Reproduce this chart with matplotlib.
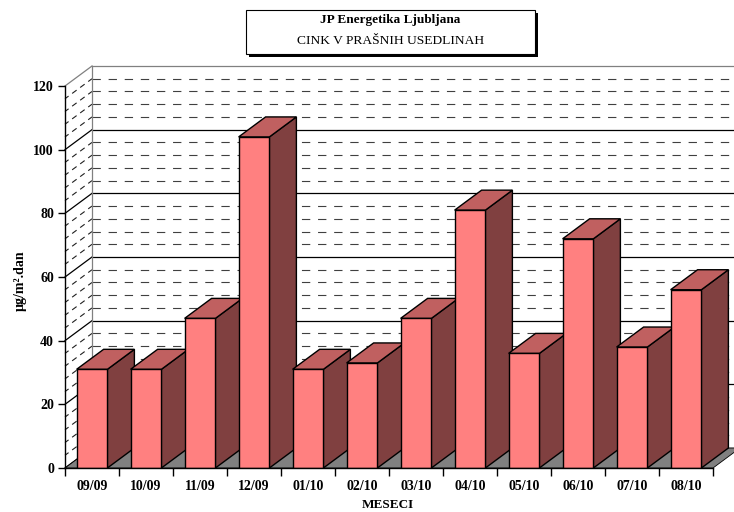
import matplotlib
matplotlib.use("Agg")
import matplotlib.pyplot as plt
from matplotlib.patches import Polygon, Rectangle

months = ["09/09", "10/09", "11/09", "12/09", "01/10", "02/10",
          "03/10", "04/10", "05/10", "06/10", "07/10", "08/10"]
zinc = [31, 31, 47, 104, 31, 33, 47, 81, 36, 72, 38, 56]

y_major = [0, 20, 40, 60, 80, 100, 120]
y_minor = [v for v in range(0, 121, 4) if v % 20 != 0]

FRONT = "#FF8080"
SIDE = "#804040"
TOP = "#C06060"
FLOOR = "#808080"
FONT = "Liberation Serif"

W, H = 734, 512
fig = plt.figure(figsize=(W / 100, H / 100), dpi=100)
ax = fig.add_axes([65 / W, 44 / H, 648 / W, 382 / H])
n = len(months)
ax.set_xlim(0, n)
ax.set_ylim(0, 120)

# depth of the fake 3d box, in data units
dx = 27 / 54
dy = 20 / (382 / 120)

# back wall grid
for v in y_major:
    col = "#808080" if v == 120 else "black"
    ax.plot([dx, n + dx], [v + dy, v + dy], color=col, lw=0.9, zorder=1, clip_on=False)
    ax.plot([0, dx], [v, v + dy], color=col, lw=0.9, zorder=1, clip_on=False)
for v in y_minor:
    ax.plot([dx, n + dx], [v + dy, v + dy], color="#404040", lw=0.8,
            ls=(0, (7.5, 7.0)), zorder=1, clip_on=False)
    ax.plot([0, dx], [v, v + dy], color="#202020", lw=0.8,
            ls=(1, (5, 4)), zorder=1, clip_on=False)
ax.plot([dx, dx], [dy, 120 + dy], color="#808080", lw=0.9, zorder=1, clip_on=False)

# floor
floor = Polygon([(0, 0), (n, 0), (n + dx, dy), (dx, dy)], closed=True,
                facecolor=FLOOR, edgecolor="black", lw=0.6, zorder=2, clip_on=False)
ax.add_patch(floor)

# bars: side + top polygons, then the front face
bw = 0.57
xs = [i + 0.5 for i in range(n)]
bars = ax.bar(xs, zinc, width=bw, color=FRONT, edgecolor="black", lw=1.0)
for i, (x, v) in enumerate(zip(xs, zinc)):
    xl, xr = x - bw / 2, x + bw / 2
    side = Polygon([(xr, 0), (xr + dx, dy), (xr + dx, v + dy), (xr, v)], closed=True,
                   facecolor=SIDE, edgecolor="black", lw=1.0, zorder=10 + 3 * i, clip_on=False)
    top = Polygon([(xl, v), (xr, v), (xr + dx, v + dy), (xl + dx, v + dy)], closed=True,
                  facecolor=TOP, edgecolor="black", lw=1.0, zorder=11 + 3 * i, clip_on=False)
    ax.add_patch(side)
    ax.add_patch(top)
    bars[i].set_zorder(12 + 3 * i)

for s in ["top", "right"]:
    ax.spines[s].set_visible(False)
for s in ["left", "bottom"]:
    ax.spines[s].set_linewidth(1.0)
    ax.spines[s].set_zorder(60)

ax.set_xticks(xs)
ax.set_xticklabels(months)
ax.set_xticks(range(n + 1), minor=True)
ax.tick_params(axis="x", which="major", length=0, pad=9)
ax.tick_params(axis="x", which="minor", length=6, width=1, direction="out")
ax.set_yticks(y_major)
ax.tick_params(axis="y", which="major", length=5, width=1, direction="out", pad=3)
for lab in ax.get_xticklabels() + ax.get_yticklabels():
    lab.set_fontfamily(FONT)
    lab.set_fontweight("bold")
    lab.set_fontsize(10)

fig.text(388 / W, 1 - 505 / H, "MESECI", family=FONT, weight="bold", fontsize=9.5,
         ha="center", va="center")
fig.text(20 / W, 1 - 281 / H, "µg/m².dan", family=FONT, weight="bold",
         fontsize=10, rotation=90, ha="center", va="center")

# title box with shadow
bx, by, bwid, bh = 246, 10, 289, 44
fig.add_artist(Rectangle(((bx + 3) / W, 1 - (by + bh + 3) / H), bwid / W, bh / H,
                         transform=fig.transFigure, facecolor="black", edgecolor="none"))
fig.add_artist(Rectangle((bx / W, 1 - (by + bh) / H), bwid / W, bh / H,
                         transform=fig.transFigure, facecolor="white", edgecolor="black", lw=0.8))
fig.text((bx + bwid / 2) / W, 1 - 20 / H, "JP Energetika Ljubljana", family=FONT,
         weight="bold", fontsize=9.5, ha="center", va="center")
fig.text((bx + bwid / 2) / W, 1 - 41 / H, "CINK V PRAŠNIH USEDLINAH", family=FONT,
         fontsize=9.7, ha="center", va="center")

fig.savefig("out.png", dpi=100)
